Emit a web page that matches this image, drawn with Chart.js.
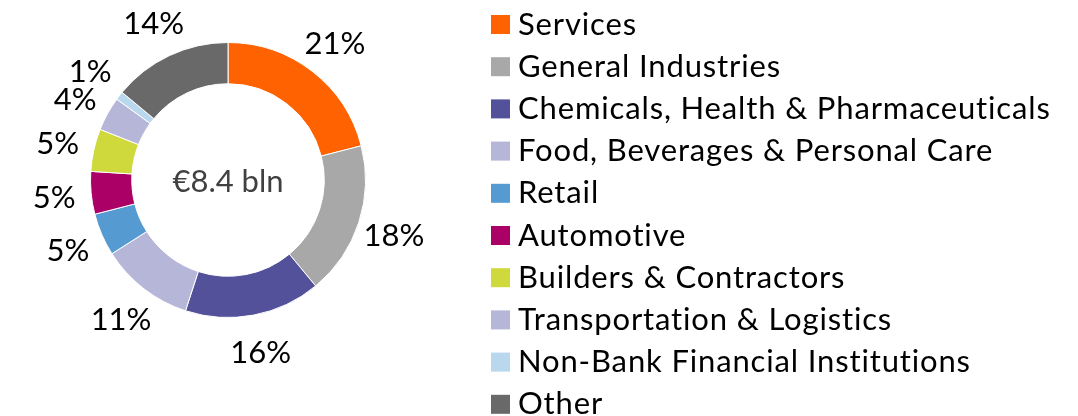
<!DOCTYPE html>
<html>
<head>
<meta charset="utf-8">
<title>Loan book by sector</title>
<script src="https://cdn.jsdelivr.net/npm/chart.js@4.4.1/dist/chart.umd.min.js"></script>
<style>
  html, body { margin: 0; padding: 0; background: #fff; }
  #wrap { width: 1078px; height: 416px; }
</style>
</head>
<body>
<div id="wrap"><canvas id="sectorChart" width="1078" height="416"></canvas></div>
<script>
// sector split of the portfolio (% of total)
var sectors = [
  "Services",
  "General Industries",
  "Chemicals, Health & Pharmaceuticals",
  "Food, Beverages & Personal Care",
  "Retail",
  "Automotive",
  "Builders & Contractors",
  "Transportation & Logistics",
  "Non-Bank Financial Institutions",
  "Other"
];
var shares = [21, 18, 16, 11, 5, 5, 5, 4, 1, 14];
var sectorColors = [
  "#FF6200", "#A8A8A8", "#525199", "#B6B6D8", "#559BD1",
  "#AB0066", "#D0D93C", "#B6B6D8", "#B9D7ED", "#696969"
];
var totalLabel = "€8.4 bln";

var FONT = "Lato, 'Open Sans', sans-serif";

/* percentages round the ring, total in the hole, legend on the right */
var ringText = {
  id: "ringText",
  afterDraw: function (chart) {
    var ctx = chart.ctx;
    var arcs = chart.getDatasetMeta(0).data;
    ctx.save();
    ctx.font = "31px " + FONT;
    ctx.fillStyle = "#000";
    ctx.textAlign = "center";
    ctx.textBaseline = "middle";

    // place each label at the slice's mid angle, then nudge apart any that collide
    var pos = arcs.map(function (arc, i) {
      var p = arc.getProps(["x", "y", "startAngle", "endAngle", "outerRadius"], true);
      var mid = (p.startAngle + p.endAngle) / 2;
      var r = p.outerRadius + 37;
      var text = shares[i] + "%";
      return { text: text, x: p.x + Math.cos(mid) * r, y: p.y + Math.sin(mid) * r,
               w: ctx.measureText(text).width };
    });
    var boxH = 28;
    for (var pass = 0; pass < 4; pass++) {
      for (var i = 0; i < pos.length; i++) {
        var a = pos[i], b = pos[(i + 1) % pos.length];
        var overlapX = (a.w + b.w) / 2 - Math.abs(a.x - b.x);
        var overlapY = boxH - Math.abs(a.y - b.y);
        if (overlapX > 0 && overlapY > 0) {
          var dir = a.y < b.y ? -1 : 1;
          a.y += dir * overlapY / 2;
          b.y -= dir * overlapY / 2;
        }
      }
    }
    pos.forEach(function (l) {
      ctx.fillText(l.text, l.x, l.y + 2);
    });

    var c = arcs[0];
    ctx.fillStyle = "#404040";
    ctx.fillText(totalLabel, c.x, c.y + 2);

    // legend
    var colors = chart.data.datasets[0].backgroundColor;
    ctx.textAlign = "left";
    ctx.textBaseline = "alphabetic";
    ctx.letterSpacing = "0.85px";
    chart.data.labels.forEach(function (label, i) {
      var top = 15 + i * 42.2;
      ctx.fillStyle = colors[i];
      ctx.fillRect(491, top, 19, 19);
      ctx.fillStyle = "#000";
      ctx.fillText(label, 518, top + 19.5);
    });
    ctx.restore();
  }
};

var chart = new Chart(document.getElementById("sectorChart"), {
  type: "doughnut",
  data: {
    labels: sectors,
    datasets: [{
      data: shares,
      backgroundColor: sectorColors,
      borderColor: "#fff",
      borderWidth: 1
    }]
  },
  options: {
    responsive: false,
    animation: false,
    cutout: "70%",
    layout: {
      padding: { left: 90, top: 42, right: 712, bottom: 98 }
    },
    plugins: {
      legend: { display: false },
      tooltip: { enabled: false }
    }
  },
  plugins: [ringText]
});
</script>
</body>
</html>
